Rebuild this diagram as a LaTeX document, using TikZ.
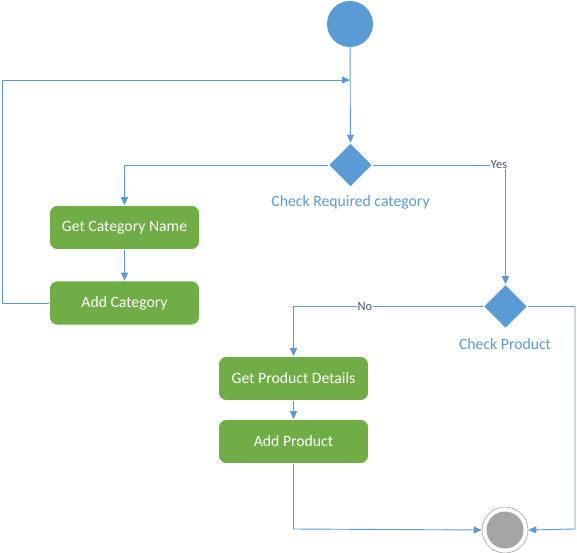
\documentclass[tikz,border=0pt]{standalone}
\usepackage{fontspec}
\setmainfont{Carlito}
\usetikzlibrary{shapes.geometric,arrows.meta}
\definecolor{ublue}{HTML}{5B9BD5}
\definecolor{ugreen}{HTML}{70AD47}
\definecolor{ugray}{HTML}{A5A5A5}
\definecolor{ulab}{HTML}{44546A}
\begin{document}
\begin{tikzpicture}[x=1bp,y=-1bp,
  act/.style={rectangle,rounded corners=8bp,fill=ugreen,draw=white,line width=0.6bp,minimum width=150bp,minimum height=44bp,text=white,font=\fontsize{15.8}{18}\selectfont,inner sep=0pt},
  dec/.style={diamond,fill=ublue,draw=white,line width=0.6bp,minimum width=44bp,minimum height=44bp,inner sep=0pt},
  declabel/.style={text=ublue,font=\fontsize{15.8}{18}\selectfont,inner sep=1bp},
  guard/.style={text=ulab,fill=white,font=\fontsize{12.5}{14}\selectfont,inner sep=0.5bp},
  flow/.style={draw=ublue,line width=0.9bp,-{Triangle[length=8bp,width=7bp]}}]
\useasboundingbox (0,0) rectangle (577,553);
% nodes
\node[circle,fill=ublue,minimum size=46bp,inner sep=0pt] (start) at (350,24) {};
\node[dec] (d1) at (350.5,165) {};
\node[declabel] (d1lab) at (350.5,202) {Check Required category};
\node[act] (getcat) at (124.5,227.5) {Get Category Name};
\node[act] (addcat) at (124.5,303) {Add Category};
\node[dec] (d2) at (505.5,306.5) {};
\node[declabel] (d2lab) at (505,344) {Check Product};
\node[act] (getprod) at (293.5,378.5) {Get Product Details};
\node[act] (addprod) at (293.5,441.5) {Add Product};
\node[circle,draw=ugray,fill=white,line width=0.6bp,minimum size=46bp,inner sep=0pt] (endo) at (505,530) {};
\node[circle,fill=ugray,minimum size=37bp,inner sep=0pt] (endi) at (505,530) {};
% coordinates
\coordinate (loopin) at (350,80);
\coordinate (loopL) at (2,303);
\coordinate (c1) at (124.5,165);
\coordinate (c2) at (505.5,165);
\coordinate (c3) at (293.5,306.5);
\coordinate (c4) at (575,306.5);
\coordinate (c5) at (575,529);
\coordinate (c6) at (293.5,529);
% connectors
\draw[flow] (start) -- (d1);
\draw[flow] (addcat.west) -- (loopL) |- (loopin);
\draw[flow] (d1.west) -- (c1) -- (getcat.north);
\draw[flow] (getcat) -- (addcat);
\draw[flow] (d1.east) -- (c2) -- (d2.north);
\node[guard] (yes) at (499,164.5) {Yes};
\draw[flow] (d2.west) -- (c3) -- (getprod.north);
\node[guard] (no) at (365,306.5) {No};
\draw[flow] (getprod) -- (addprod);
\draw[flow] (d2.east) -- (c4) -- (c5) -- (endo.east);
\draw[flow] (addprod.south) -- (c6) -- (endo.west);
\end{tikzpicture}
\end{document}
